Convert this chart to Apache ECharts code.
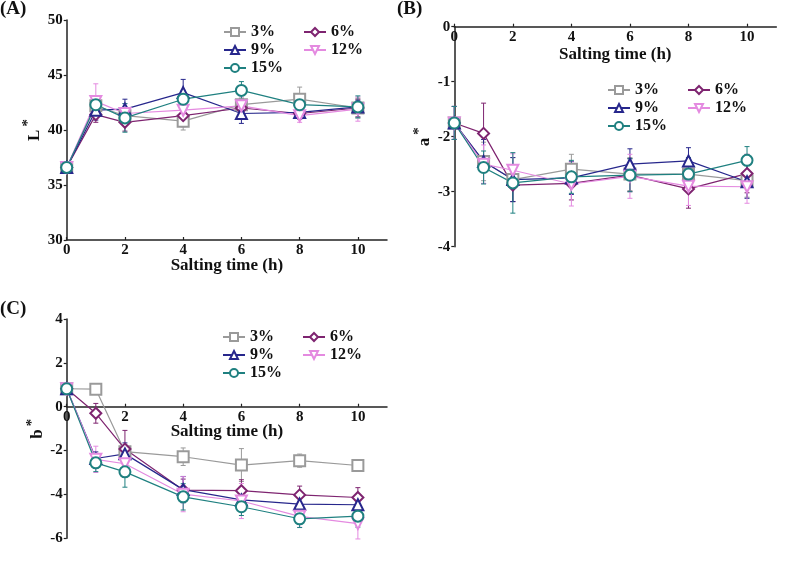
<!DOCTYPE html>
<html><head><meta charset="utf-8">
<script src="https://cdn.jsdelivr.net/npm/echarts@6/dist/echarts.min.js"></script>
<style>html,body{margin:0;padding:0;background:#fff}#c{width:787px;height:572px}</style>
</head><body><div id="c"></div>
<script>
// ---------- data ----------
const hours = [0, 1, 2, 4, 6, 8, 10];
const xTicks = [0, 2, 4, 6, 8, 10];
const levels = ['3%', '6%', '9%', '12%', '15%'];
const lTicks = [30, 35, 40, 45, 50];
const aTicks = [-4, -3, -2, -1, 0];
const bTicks = [-6, -4, -2, 0, 2, 4];

// Panel A : L*
const L3  = [36.6, 42.2, 41.3, 40.8, 42.3, 42.8, 42.0];
const L6  = [36.6, 41.4, 40.7, 41.3, 42.0, 41.5, 42.0];
const L9  = [36.6, 41.8, 41.9, 43.4, 41.5, 41.6, 42.1];
const L12 = [36.6, 42.6, 41.5, 41.8, 42.2, 41.3, 41.9];
const L15 = [36.6, 42.3, 41.1, 42.8, 43.6, 42.3, 42.1];
const L3sd  = [0.3, 0.6, 0.8, 0.8, 0.6, 1.1, 0.9];
const L6sd  = [0.3, 0.7, 0.8, 1.0, 0.6, 0.5, 0.8];
const L9sd  = [0.3, 0.9, 0.9, 1.2, 0.9, 0.6, 0.6];
const L12sd = [0.3, 1.6, 0.9, 0.9, 0.7, 0.6, 1.1];
const L15sd = [0.3, 0.7, 1.3, 0.8, 0.8, 0.6, 1.0];

// Panel B : a*
const A3  = [-1.75, -2.45, -2.78, -2.59, -2.68, -2.68, -2.80];
const A6  = [-1.75, -1.94, -2.88, -2.85, -2.70, -2.95, -2.67];
const A9  = [-1.75, -2.45, -2.78, -2.75, -2.50, -2.44, -2.82];
const A12 = [-1.75, -2.50, -2.61, -2.86, -2.72, -2.90, -2.91];
const A15 = [-1.75, -2.56, -2.84, -2.73, -2.70, -2.68, -2.43];
const A3sd  = [0.30, 0.35, 0.40, 0.27, 0.30, 0.30, 0.30];
const A6sd  = [0.30, 0.55, 0.30, 0.30, 0.30, 0.35, 0.35];
const A9sd  = [0.30, 0.40, 0.40, 0.30, 0.28, 0.24, 0.30];
const A12sd = [0.30, 0.35, 0.30, 0.40, 0.40, 0.35, 0.30];
const A15sd = [0.30, 0.30, 0.55, 0.30, 0.30, 0.30, 0.25];

// Panel C : b*
const B3  = [0.82, 0.80, -2.05, -2.28, -2.66, -2.46, -2.68];
const B6  = [0.82, -0.30, -1.93, -3.80, -3.83, -4.02, -4.14];
const B9  = [0.82, -2.36, -2.15, -3.78, -4.25, -4.44, -4.47];
const B12 = [0.82, -2.40, -2.60, -3.99, -4.30, -5.00, -5.33];
const B15 = [0.82, -2.56, -2.97, -4.11, -4.56, -5.11, -4.99];
const B3sd  = [0.10, 0.10, 0.30, 0.40, 0.75, 0.30, 0.20];
const B6sd  = [0.10, 0.45, 0.85, 0.50, 0.50, 0.40, 0.45];
const B9sd  = [0.10, 0.30, 0.50, 0.60, 0.50, 0.40, 0.40];
const B12sd = [0.10, 0.60, 0.50, 0.80, 0.80, 0.50, 0.70];
const B15sd = [0.10, 0.40, 0.70, 0.60, 0.40, 0.40, 0.50];

// ---------- styles ----------
const FONT = '"Liberation Serif", "Times New Roman", serif';
const colors = ['#9a9a9a', '#7e2470', '#27278c', '#e48ae0', '#1f8080'];
const symbols = ['emptyRect', 'emptyDiamond', 'emptyTriangle', 'emptyTriangle', 'emptyCircle'];
const rotates = [0, 0, 0, 180, 0];

const panels = [
  { means: [L3, L6, L9, L12, L15], sds: [L3sd, L6sd, L9sd, L12sd, L15sd] },
  { means: [A3, A6, A9, A12, A15], sds: [A3sd, A6sd, A9sd, A12sd, A15sd] },
  { means: [B3, B6, B9, B12, B15], sds: [B3sd, B6sd, B9sd, B12sd, B15sd] }
];

const grids = [
  { left: 66.7, top: 20, width: 320.3, height: 220 },
  { left: 454.3, top: 26.7, width: 322, height: 220 },
  { left: 66.7, top: 319, width: 320.3, height: 219.3 }
];

function errRender(color) {
  return function (params, api) {
    const x = api.value(0), lo = api.value(1), hi = api.value(2);
    const p1 = api.coord([x, hi]), p2 = api.coord([x, lo]);
    const w = 2.5;
    const st = { stroke: color, lineWidth: 1 };
    return { type: 'group', children: [
      { type: 'line', shape: { x1: p1[0], y1: p1[1], x2: p2[0], y2: p2[1] }, style: st },
      { type: 'line', shape: { x1: p1[0] - w, y1: p1[1], x2: p1[0] + w, y2: p1[1] }, style: st },
      { type: 'line', shape: { x1: p2[0] - w, y1: p2[1], x2: p2[0] + w, y2: p2[1] }, style: st }
    ]};
  };
}

const series = [];
panels.forEach((p, pi) => {
  levels.forEach((lv, li) => {
    series.push({
      type: 'custom', name: lv + ' err', xAxisIndex: pi, yAxisIndex: pi, z: 1,
      renderItem: errRender(colors[li]), silent: true,
      encode: { x: 0, y: [1, 2] },
      data: hours.map((h, k) => [h, p.means[li][k] - p.sds[li][k], p.means[li][k] + p.sds[li][k]])
    });
  });
  levels.forEach((lv, li) => {
    series.push({
      type: 'line', name: lv, xAxisIndex: pi, yAxisIndex: pi, z: 3,
      data: hours.map((h, k) => [h, p.means[li][k]]),
      symbol: symbols[li], symbolRotate: rotates[li], symbolSize: 11,
      color: colors[li],
      lineStyle: { width: 1.2, color: colors[li] },
      itemStyle: { color: colors[li], borderWidth: 1 },
      animation: false
    });
  });
});

const tickFont = { fontFamily: FONT, fontWeight: 'bold', fontSize: 15, color: '#111' };
const nameFont = { fontFamily: FONT, fontWeight: 'bold', fontSize: 17, color: '#111' };

// bottom x axis (panel A)
function xAxBottom(gi, gap) {
  return {
    type: 'value', gridIndex: gi, min: 0, max: 11, interval: 2, position: 'bottom',
    axisLine: { show: true, onZero: false, lineStyle: { color: '#222', width: 1.5 } },
    axisTick: { show: true, inside: true, length: 3, customValues: xTicks, lineStyle: { color: '#222', width: 1.2 } },
    axisLabel: Object.assign({ margin: 3, customValues: xTicks }, tickFont),
    splitLine: { show: false },
    name: 'Salting time (h)', nameLocation: 'middle', nameGap: gap, nameMoveOverlap: false,
    nameTextStyle: nameFont
  };
}
// x axis placed at y = 0 (panels B, C): drawn as a "top" axis shifted down to the zero line,
// labels and name hanging below it
function xAxZero(gi, yMin, yMax, gap) {
  const g = grids[gi];
  const off = -(yMax - 0) / (yMax - yMin) * g.height;
  return {
    type: 'value', gridIndex: gi, min: 0, max: 11, interval: 2, position: 'top', offset: off,
    axisLine: { show: true, onZero: false, lineStyle: { color: '#222', width: 1.5 } },
    axisTick: { show: true, inside: false, length: 3, customValues: xTicks, lineStyle: { color: '#222', width: 1.2 } },
    axisLabel: Object.assign({ margin: 3, inside: true, customValues: xTicks }, tickFont),
    splitLine: { show: false },
    name: 'Salting time (h)', nameLocation: 'middle', nameGap: -gap, nameMoveOverlap: false,
    nameTextStyle: nameFont
  };
}
function yAx(gi, min, max, interval, ticks, letter, gap) {
  return {
    type: 'value', gridIndex: gi, min: min, max: max, interval: interval,
    axisLine: { show: true, onZero: false, lineStyle: { color: '#222', width: 1.5 } },
    axisTick: { show: true, inside: false, length: 3, customValues: ticks, lineStyle: { color: '#222', width: 1.2 } },
    axisLabel: Object.assign({ margin: 4, customValues: ticks }, tickFont),
    splitLine: { show: false },
    name: '{m|' + letter + '}{s|*}', nameLocation: 'middle', nameGap: gap, nameRotate: 90,
    nameTextStyle: Object.assign({}, nameFont, {
      rich: {
        m: Object.assign({}, nameFont, { lineHeight: 22, verticalAlign: 'bottom', padding: [0, 3, 0, 0] }),
        s: Object.assign({}, nameFont, { fontSize: 15, lineHeight: 18, verticalAlign: 'top' })
      }
    })
  };
}

function legendAt(left, top) {
  return {
    left: left, top: top, width: 160, orient: 'horizontal',
    data: levels, itemWidth: 22, itemHeight: 10, itemGap: 2, padding: 0,
    textStyle: { fontFamily: FONT, fontWeight: 'bold', fontSize: 16, color: '#111', width: 50, lineHeight: 16 },
    selectedMode: false
  };
}

const titleStyle = { fontFamily: FONT, fontWeight: 'bold', fontSize: 19, color: '#111' };

const option = {
  animation: false,
  backgroundColor: '#fff',
  title: [
    { text: '(A)', left: 0, top: 0, padding: 0, textStyle: titleStyle },
    { text: '(B)', left: 397, top: 0, padding: 0, textStyle: titleStyle },
    { text: '(C)', left: 0, top: 300, padding: 0, textStyle: titleStyle }
  ],
  legend: [legendAt(223, 24), legendAt(607, 82), legendAt(222, 329)],
  grid: grids,
  xAxis: [xAxBottom(0, 17), xAxZero(1, -4, 0, 36), xAxZero(2, -6, 4, 33)],
  yAxis: [
    yAx(0, 30, 50, 5, lTicks, 'L', 24),
    yAx(1, -4, 0, 1, aTicks, 'a', 21),
    yAx(2, -6, 4, 2, bTicks, 'b', 20)
  ],
  series: series
};

const chart = echarts.init(document.getElementById('c'), null, { renderer: 'canvas' });
chart.setOption(option);
</script>
</body></html>
